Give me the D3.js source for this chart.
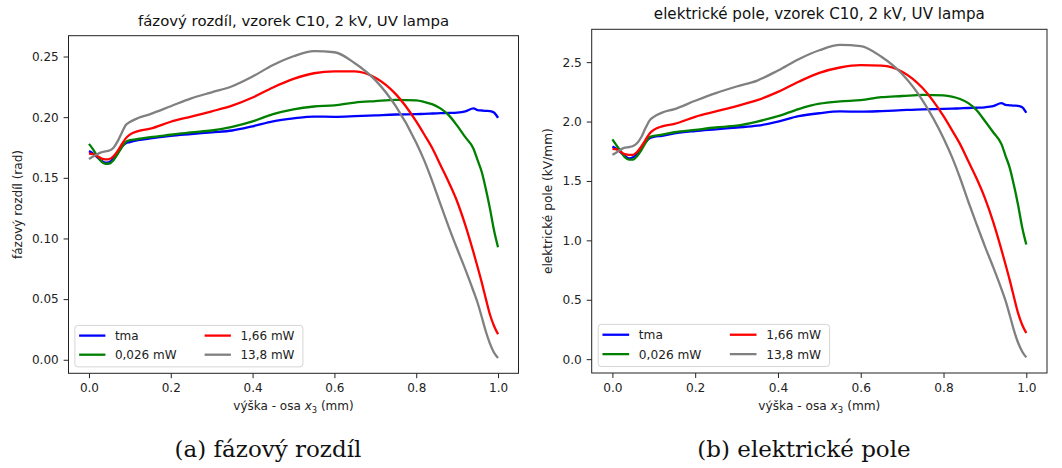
<!DOCTYPE html>
<html>
<head>
    <meta charset="utf-8">
    <title>vzorek C10, 2 kV, UV lampa</title>
    <style>
        body {
            margin: 0;
            background: #fff;
        }

        svg {
            display: block;
            font-family: "DejaVu Sans", sans-serif;
        }

        .tick text {
            fill: #222;
        }

        .tick line {
            stroke: #222;
        }

        .frame {
            fill: none;
            stroke: #222;
            stroke-width: 1px;
        }

        .curve {
            fill: none;
            stroke-width: 2.3px;
            stroke-linejoin: round;
            stroke-linecap: butt;
        }

        .caption {
            font-family: "DejaVu Serif", serif;
            font-size: 23px;
            fill: #111;
            text-anchor: middle;
        }
    </style>
    <script src="https://d3js.org/d3.v7.min.js"></script>
</head>
<body>
<div id="chart"></div>
<script>
    // vyska - osa x3 (mm), shared by all curves
    const xHeight = [0, 0.01, 0.02, 0.03, 0.04, 0.05, 0.06, 0.07, 0.08, 0.09,
        0.1, 0.12, 0.15, 0.2, 0.25, 0.3, 0.35, 0.4, 0.45, 0.5,
        0.55, 0.6, 0.65, 0.7, 0.75, 0.8, 0.82, 0.84, 0.86, 0.88,
        0.9, 0.92, 0.94, 0.95, 0.96, 0.97, 0.98, 0.99, 1.0];

    const seriesNames = ['tma', '0,026 mW', '1,66 mW', '13,8 mW'];

    // fazovy rozdil (rad)
    const phaseTma = [0.172, 0.170, 0.167, 0.164, 0.1625, 0.163, 0.166, 0.171, 0.1755, 0.1785,
        0.1795, 0.181, 0.1825, 0.1845, 0.186, 0.1875, 0.189, 0.1925, 0.1966, 0.199,
        0.2005, 0.2003, 0.2008, 0.2015, 0.2022, 0.2025, 0.2027, 0.203, 0.2033, 0.2035,
        0.2038, 0.2048, 0.2072, 0.2058, 0.2055, 0.2052, 0.205, 0.2038, 0.1994];
    const phase0026 = [0.178, 0.1735, 0.168, 0.1635, 0.1615, 0.1618, 0.1645, 0.1695, 0.175, 0.1795,
        0.181, 0.182, 0.1835, 0.1855, 0.1875, 0.189, 0.192, 0.1965, 0.2025, 0.2065,
        0.2088, 0.2097, 0.212, 0.2132, 0.2142, 0.2138, 0.2125, 0.2105, 0.207, 0.2015,
        0.193, 0.1835, 0.174, 0.1645, 0.155, 0.141, 0.125, 0.107, 0.0927];
    const phase166 = [0.170, 0.1695, 0.168, 0.166, 0.1652, 0.1655, 0.1678, 0.172, 0.1775, 0.1825,
        0.1856, 0.1885, 0.1905, 0.1962, 0.2005, 0.2048, 0.2095, 0.2162, 0.2245, 0.2315,
        0.2362, 0.2378, 0.2377, 0.2325, 0.219, 0.1965, 0.1855, 0.174, 0.160, 0.146,
        0.1305, 0.111, 0.0885, 0.0765, 0.064, 0.0505, 0.0375, 0.028, 0.021];
    const phase138 = [0.1655, 0.1675, 0.1695, 0.171, 0.1718, 0.1725, 0.1748, 0.180, 0.187, 0.1935,
        0.196, 0.1993, 0.2025, 0.209, 0.2155, 0.2205, 0.2255, 0.2335, 0.243, 0.2502,
        0.2545, 0.2535, 0.2445, 0.2305, 0.209, 0.179, 0.164, 0.1465, 0.1275, 0.109,
        0.0915, 0.0745, 0.0565, 0.047, 0.0355, 0.0235, 0.0135, 0.006, 0.0015];

    // elektricke pole (kV/mm)
    const fieldTma = [1.79, 1.77, 1.74, 1.71, 1.69, 1.70, 1.73, 1.78, 1.825, 1.86,
        1.87, 1.88, 1.90, 1.92, 1.935, 1.95, 1.965, 2.00, 2.045, 2.07,
        2.085, 2.083, 2.088, 2.096, 2.103, 2.106, 2.108, 2.111, 2.114, 2.116,
        2.12, 2.13, 2.155, 2.14, 2.137, 2.134, 2.132, 2.12, 2.074];
    const field0026 = [1.85, 1.80, 1.75, 1.70, 1.68, 1.68, 1.71, 1.76, 1.82, 1.87,
        1.88, 1.89, 1.91, 1.93, 1.95, 1.965, 2.00, 2.045, 2.105, 2.15,
        2.17, 2.18, 2.205, 2.215, 2.225, 2.22, 2.21, 2.19, 2.155, 2.095,
        2.005, 1.91, 1.81, 1.71, 1.61, 1.465, 1.30, 1.11, 0.965];
    const field166 = [1.77, 1.765, 1.745, 1.725, 1.72, 1.72, 1.745, 1.79, 1.845, 1.90,
        1.93, 1.96, 1.98, 2.04, 2.085, 2.13, 2.18, 2.25, 2.335, 2.41,
        2.455, 2.475, 2.47, 2.42, 2.28, 2.045, 1.93, 1.81, 1.665, 1.52,
        1.355, 1.155, 0.92, 0.795, 0.665, 0.525, 0.39, 0.29, 0.22];
    const field138 = [1.72, 1.74, 1.765, 1.78, 1.785, 1.795, 1.82, 1.87, 1.945, 2.01,
        2.04, 2.075, 2.105, 2.175, 2.24, 2.295, 2.345, 2.43, 2.525, 2.60,
        2.645, 2.635, 2.545, 2.40, 2.175, 1.86, 1.705, 1.525, 1.325, 1.135,
        0.95, 0.775, 0.59, 0.49, 0.37, 0.245, 0.14, 0.065, 0.015];

    const xTicks = [0, 0.2, 0.4, 0.6, 0.8, 1.0];
    const phaseTicks = [0, 0.05, 0.10, 0.15, 0.20, 0.25];
    const fieldTicks = [0, 0.5, 1.0, 1.5, 2.0, 2.5];

    const colors = ['#0000ff', '#008000', '#ff0000', '#808080'];

    const svg = d3.select('#chart').append('svg')
            .attr('width', 1062)
            .attr('height', 468);

    svg.append('rect').attr('width', 1062).attr('height', 468).attr('fill', '#fff');

    function panel(cfg) {
        const k = cfg.scale;
        const w = cfg.width, h = cfg.height;
        const g = svg.append('g').attr('transform', `translate(${cfg.left},${cfg.top})`);

        const x = d3.scaleLinear().domain([-0.05, 1.05]).range([0, w]);
        // matplotlib style autoscale: 5% margin
        const all = cfg.series.flat();
        const lo = d3.min(all), hi = d3.max(all), pad = (hi - lo) * 0.05;
        const y = d3.scaleLinear().domain([lo - pad, hi + pad]).range([h, 0]);

        const fs = 12 * k;

        const xAxis = g.append('g')
                .attr('transform', `translate(0,${h})`)
                .call(d3.axisBottom(x).tickValues(xTicks).tickFormat(d3.format('.1f'))
                        .tickSize(4.9 * k).tickPadding(4.9 * k).tickSizeOuter(0));
        const yAxis = g.append('g')
                .call(d3.axisLeft(y).tickValues(cfg.yTicks).tickFormat(d3.format(cfg.yFormat))
                        .tickSize(4.9 * k).tickPadding(4.9 * k).tickSizeOuter(0));
        [xAxis, yAxis].forEach(a => {
            a.select('.domain').remove();
            a.selectAll('text').style('font-size', fs + 'px').style('font-family', '"DejaVu Sans", sans-serif');
        });

        const line = d3.line()
                .x((d, i) => x(xHeight[i]))
                .y(d => y(d))
                .curve(d3.curveMonotoneX);

        g.selectAll('path.curve')
                .data(cfg.series)
                .enter().append('path')
                .attr('class', 'curve')
                .attr('stroke', (d, i) => colors[i])
                .attr('d', line);

        g.append('rect').attr('class', 'frame')
                .attr('width', w).attr('height', h);

        // title
        g.append('text')
                .attr('x', w / 2)
                .attr('y', cfg.titleY - cfg.top)
                .attr('text-anchor', 'middle')
                .style('font-size', (14.9 * k) + 'px')
                .attr('fill', '#111')
                .text(cfg.title);

        // y label
        g.append('text')
                .attr('transform', `translate(${cfg.ylabelX - cfg.left},${h / 2}) rotate(-90)`)
                .attr('text-anchor', 'middle')
                .style('font-size', fs + 'px')
                .attr('fill', '#222')
                .text(cfg.ylabel);

        // x label with italic x and subscript 3
        const xl = g.append('text')
                .attr('x', w / 2)
                .attr('y', cfg.xlabelY - cfg.top)
                .attr('text-anchor', 'middle')
                .style('font-size', fs + 'px')
                .attr('fill', '#222');
        xl.append('tspan').text('výška - osa ');
        xl.append('tspan').style('font-style', 'italic').text('x');
        xl.append('tspan').attr('dy', 2.6 * k).style('font-size', (fs * 0.7) + 'px').text('3');
        xl.append('tspan').attr('dy', -2.6 * k).text(' (mm)');

        // legend, lower left, two columns
        const lw = 228 * k, lh = 41.5 * k;
        const leg = g.append('g')
                .attr('transform', `translate(${6.4 * k},${h - 6.4 * k - lh})`);
        leg.append('rect')
                .attr('width', lw).attr('height', lh)
                .attr('rx', 3).attr('ry', 3)
                .attr('fill', '#fff').attr('fill-opacity', 0.8)
                .attr('stroke', '#d5d5d5').attr('stroke-width', 1);

        const item = leg.selectAll('g.item')
                .data(seriesNames)
                .enter().append('g')
                .attr('class', 'item')
                .attr('transform', (d, i) => `translate(${(i < 2 ? 0 : 125.5) * k},${(i % 2 ? 29.3 : 10.2) * k})`);
        item.append('line')
                .attr('x1', 4.2 * k).attr('x2', 30.5 * k)
                .attr('stroke', (d, i) => colors[i])
                .attr('stroke-width', 2.3);
        item.append('text')
                .attr('x', 40 * k)
                .attr('dy', '0.36em')
                .style('font-size', fs + 'px')
                .attr('fill', '#222')
                .text(d => d);
    }

    panel({
        left: 68.5, top: 35.7, width: 450, height: 337.6, scale: 1,
        series: [phaseTma, phase0026, phase166, phase138],
        yTicks: phaseTicks, yFormat: '.2f',
        title: 'fázový rozdíl, vzorek C10, 2 kV, UV lampa', titleY: 25.5,
        ylabel: 'fázový rozdíl (rad)', ylabelX: 21.5,
        xlabelY: 410.5
    });

    panel({
        left: 591.7, top: 29.3, width: 455.3, height: 343.7, scale: 1.015,
        series: [fieldTma, field0026, field166, field138],
        yTicks: fieldTicks, yFormat: '.1f',
        title: 'elektrické pole, vzorek C10, 2 kV, UV lampa', titleY: 19,
        ylabel: 'elektrické pole (kV/mm)', ylabelX: 552,
        xlabelY: 410.5
    });

    // subfigure captions
    svg.append('text').attr('class', 'caption')
            .attr('x', 268).attr('y', 457)
            .text('(a) fázový rozdíl');
    svg.append('text').attr('class', 'caption')
            .attr('x', 804).attr('y', 457)
            .text('(b) elektrické pole');
</script>
</body>
</html>
